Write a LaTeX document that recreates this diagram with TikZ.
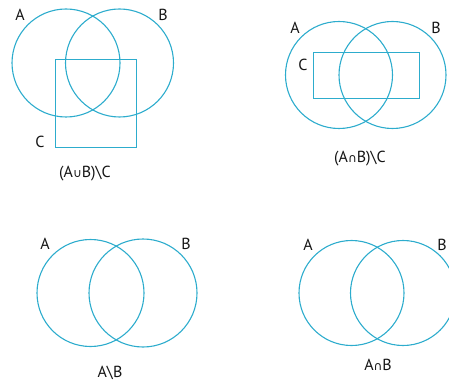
\documentclass[tikz,border=0pt]{standalone}
\usepackage{fontspec}
\setmainfont{PT Sans}
\newfontfamily\symf{DejaVu Sans}
\definecolor{venn}{RGB}{45,172,205}
\definecolor{txt}{RGB}{20,20,20}
\tikzset{
  setline/.style={draw=venn, line width=1.1pt},
  boxline/.style={draw=venn, line width=0.9pt},
  lbl/.style={text=txt, font=\fontsize{16}{18}\selectfont, inner sep=0pt},
}
\newcommand{\mycup}{{\symf\fontsize{12}{13}\selectfont ∪}}
\newcommand{\mycap}{{\symf\fontsize{12}{13}\selectfont ∩}}
\begin{document}
\begin{tikzpicture}[x=1pt,y=-1pt]
\useasboundingbox (0,0) rectangle (449,387);
% panel 1
\draw[setline] (66,63) circle (54);
\draw[setline] (119.5,63) circle (54);
\draw[boxline] (55,59) rectangle (136,147);
\node[lbl] (a1) at (20,15) {A};
\node[lbl] (b1) at (163,15) {B};
\node[lbl] (c1) at (40,142) {C};
\node[lbl] (t1) at (85,174) {(A\mycup B)\textbackslash C};
% panel 2
\draw[setline] (339,75) circle (53.5);
\draw[setline] (392.5,75) circle (53.5);
\draw[boxline] (313,52) rectangle (419,98);
\node[lbl] (a2) at (295,28) {A};
\node[lbl] (b2) at (436,28) {B};
\node[lbl] (c2) at (303,65) {C};
\node[lbl] (t2) at (360,159) {(A\mycap B)\textbackslash C};
% panel 3
\draw[setline] (90.5,293) circle (53.5);
\draw[setline] (143,293) circle (54);
\node[lbl] (a3) at (45,244) {A};
\node[lbl] (b3) at (186,244) {B};
\node[lbl] (t3) at (110,373) {A\textbackslash B};
% panel 4
\draw[setline] (351.5,293) circle (52.5);
\draw[setline] (403,293) circle (52.5);
\node[lbl] (a4) at (308,245) {A};
\node[lbl] (b4) at (442,245) {B};
\node[lbl] (t4) at (378,365) {A\mycap B};
\end{tikzpicture}
\end{document}
